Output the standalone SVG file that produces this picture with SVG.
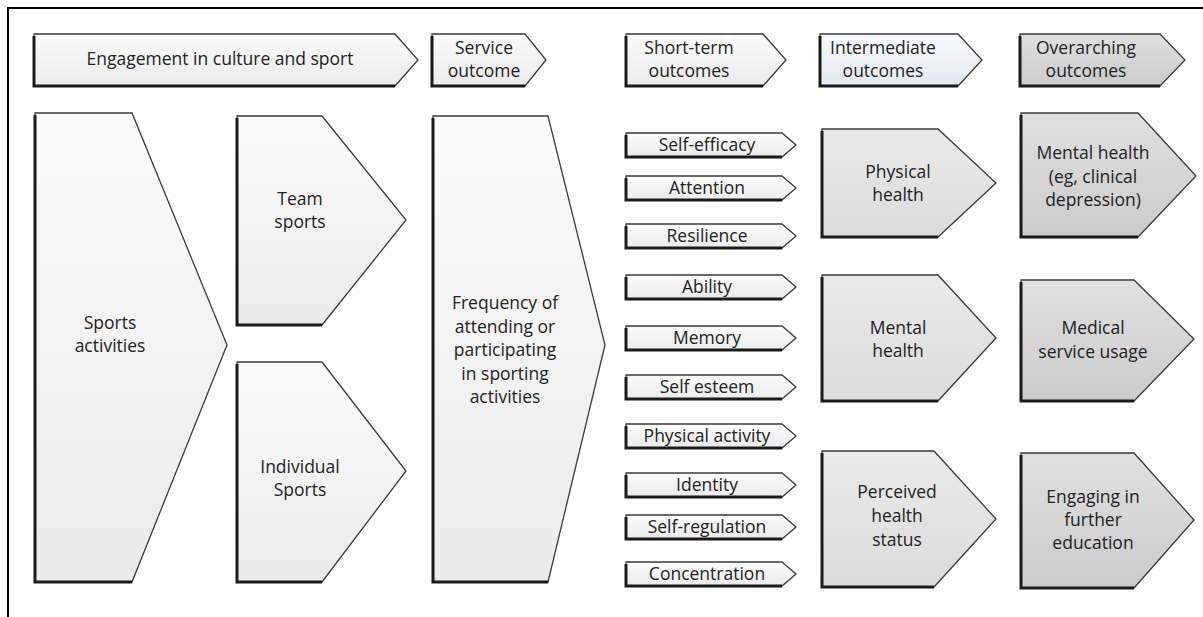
<svg xmlns="http://www.w3.org/2000/svg" width="1203" height="617" viewBox="0 0 1203 617">
<defs>
<linearGradient id="gLight" x1="0" y1="0" x2="0" y2="1">
<stop offset="0" stop-color="#fbfbfb"/><stop offset="1" stop-color="#ebebeb"/>
</linearGradient>
<linearGradient id="gBlue" x1="0" y1="0" x2="0" y2="1">
<stop offset="0" stop-color="#f7f9fc"/><stop offset="1" stop-color="#e4e9f1"/>
</linearGradient>
<linearGradient id="gMid" x1="0" y1="0" x2="0" y2="1">
<stop offset="0" stop-color="#ebebeb"/><stop offset="1" stop-color="#dbdbdb"/>
</linearGradient>
<linearGradient id="gDark" x1="0" y1="0" x2="0" y2="1">
<stop offset="0" stop-color="#e0e0e0"/><stop offset="1" stop-color="#cbcbcb"/>
</linearGradient>
</defs>
<style>
.box{stroke:#3a3a3a;stroke-width:1.3;stroke-linejoin:miter}
.light{fill:url(#gLight)}
.blue{fill:url(#gBlue)}
.mid{fill:url(#gMid)}
.dark{fill:url(#gDark)}
.sh{stroke:#1a1a1a;stroke-width:3;fill:none}
.frame{stroke:#000;stroke-width:2;fill:none}
text{font-family:"Open Sans","Noto Sans","DejaVu Sans",sans-serif;font-size:17.5px;fill:#222;text-anchor:middle}
</style>
<rect width="1203" height="617" fill="#fff"/>
<path class="frame" d="M1203 8 H8 V617"/>

<!-- header row -->
<g id="h1"><path class="box light" d="M34 34 H395 L418 60 L395 86 H34 Z"/><path class="sh" d="M34 36 V86 H395"/><text x="220" y="65">Engagement in culture and sport</text></g>
<g id="h2"><path class="box light" d="M432 34 H525 L546 60 L525 86 H432 Z"/><path class="sh" d="M432 36 V86 H525"/><text x="484" y="54">Service</text><text x="484" y="77">outcome</text></g>
<g id="h3"><path class="box light" d="M626 34 H763 L786 60 L763 86 H626 Z"/><path class="sh" d="M626 36 V86 H763"/><text x="689" y="54">Short-term</text><text x="689" y="77">outcomes</text></g>
<g id="h4"><path class="box blue" d="M820 34 H958 L982 60 L958 86 H820 Z"/><path class="sh" d="M820 36 V86 H958"/><text x="883" y="54">Intermediate</text><text x="883" y="77">outcomes</text></g>
<g id="h5"><path class="box dark" d="M1020 34 H1160 L1185 60 L1160 86 H1020 Z"/><path class="sh" d="M1020 36 V86 H1160"/><text x="1086" y="54">Overarching</text><text x="1086" y="77">outcomes</text></g>

<!-- activities -->
<g id="sports"><path class="box light" d="M35 113 H132 L227 345 L132 582 H35 Z"/><path class="sh" d="M35 115 V582 H132"/><text x="110" y="329">Sports</text><text x="110" y="352">activities</text></g>
<g id="team"><path class="box light" d="M237 116 H322 L406 220 L322 325 H237 Z"/><path class="sh" d="M237 118 V325 H322"/><text x="300" y="205">Team</text><text x="300" y="228">sports</text></g>
<g id="individual"><path class="box light" d="M237 362 H322 L406 471 L322 582 H237 Z"/><path class="sh" d="M237 364 V582 H322"/><text x="300" y="473">Individual</text><text x="300" y="496">Sports</text></g>
<g id="frequency"><path class="box light" d="M433 116 H548 L605 345 L548 582 H433 Z"/><path class="sh" d="M433 118 V582 H548"/><text x="505" y="309">Frequency of</text><text x="505" y="333">attending or</text><text x="505" y="356">participating</text><text x="505" y="380">in sporting</text><text x="505" y="403">activities</text></g>

<!-- short-term outcomes -->
<g id="s1"><path class="box light" d="M626 133 H782 L796 145 L782 157 H626 Z"/><path class="sh" d="M626 135 V157 H782"/><text x="707" y="151">Self-efficacy</text></g>
<g id="s2"><path class="box light" d="M626 176 H782 L796 188 L782 200 H626 Z"/><path class="sh" d="M626 178 V200 H782"/><text x="707" y="194">Attention</text></g>
<g id="s3"><path class="box light" d="M626 224 H782 L796 236 L782 248 H626 Z"/><path class="sh" d="M626 226 V248 H782"/><text x="707" y="242">Resilience</text></g>
<g id="s4"><path class="box light" d="M626 275 H782 L796 287 L782 299 H626 Z"/><path class="sh" d="M626 277 V299 H782"/><text x="707" y="293">Ability</text></g>
<g id="s5"><path class="box light" d="M626 326 H782 L796 338 L782 350 H626 Z"/><path class="sh" d="M626 328 V350 H782"/><text x="707" y="344">Memory</text></g>
<g id="s6"><path class="box light" d="M626 375 H782 L796 387 L782 399 H626 Z"/><path class="sh" d="M626 377 V399 H782"/><text x="707" y="393">Self esteem</text></g>
<g id="s7"><path class="box light" d="M626 424 H782 L796 436 L782 448 H626 Z"/><path class="sh" d="M626 426 V448 H782"/><text x="707" y="442">Physical activity</text></g>
<g id="s8"><path class="box light" d="M626 473 H782 L796 485 L782 497 H626 Z"/><path class="sh" d="M626 475 V497 H782"/><text x="707" y="491">Identity</text></g>
<g id="s9"><path class="box light" d="M626 515 H782 L796 527 L782 539 H626 Z"/><path class="sh" d="M626 517 V539 H782"/><text x="707" y="533">Self-regulation</text></g>
<g id="s10"><path class="box light" d="M626 562 H782 L796 574 L782 586 H626 Z"/><path class="sh" d="M626 564 V586 H782"/><text x="707" y="580">Concentration</text></g>

<!-- intermediate outcomes -->
<g id="i1"><path class="box mid" d="M822 129 H938 L996 183 L938 237 H822 Z"/><path class="sh" d="M822 131 V237 H938"/><text x="898" y="178">Physical</text><text x="898" y="201">health</text></g>
<g id="i2"><path class="box mid" d="M822 275 H938 L996 338 L938 401 H822 Z"/><path class="sh" d="M822 277 V401 H938"/><text x="898" y="334">Mental</text><text x="898" y="357">health</text></g>
<g id="i3"><path class="box mid" d="M822 451 H934 L996 519 L934 587 H822 Z"/><path class="sh" d="M822 453 V587 H934"/><text x="897" y="498">Perceived</text><text x="897" y="522">health</text><text x="897" y="546">status</text></g>

<!-- overarching outcomes -->
<g id="o1"><path class="box dark" d="M1021 113 H1138 L1196 176 L1138 237 H1021 Z"/><path class="sh" d="M1021 115 V237 H1138"/><text x="1093" y="159">Mental health</text><text x="1093" y="183">(eg, clinical</text><text x="1093" y="206">depression)</text></g>
<g id="o2"><path class="box dark" d="M1021 280 H1134 L1194 339 L1134 401 H1021 Z"/><path class="sh" d="M1021 282 V401 H1134"/><text x="1093" y="334">Medical</text><text x="1093" y="358">service usage</text></g>
<g id="o3"><path class="box dark" d="M1021 453 H1134 L1194 520 L1134 588 H1021 Z"/><path class="sh" d="M1021 455 V588 H1134"/><text x="1093" y="503">Engaging in</text><text x="1093" y="526">further</text><text x="1093" y="549">education</text></g>

<g id="connectors"></g>
</svg>
